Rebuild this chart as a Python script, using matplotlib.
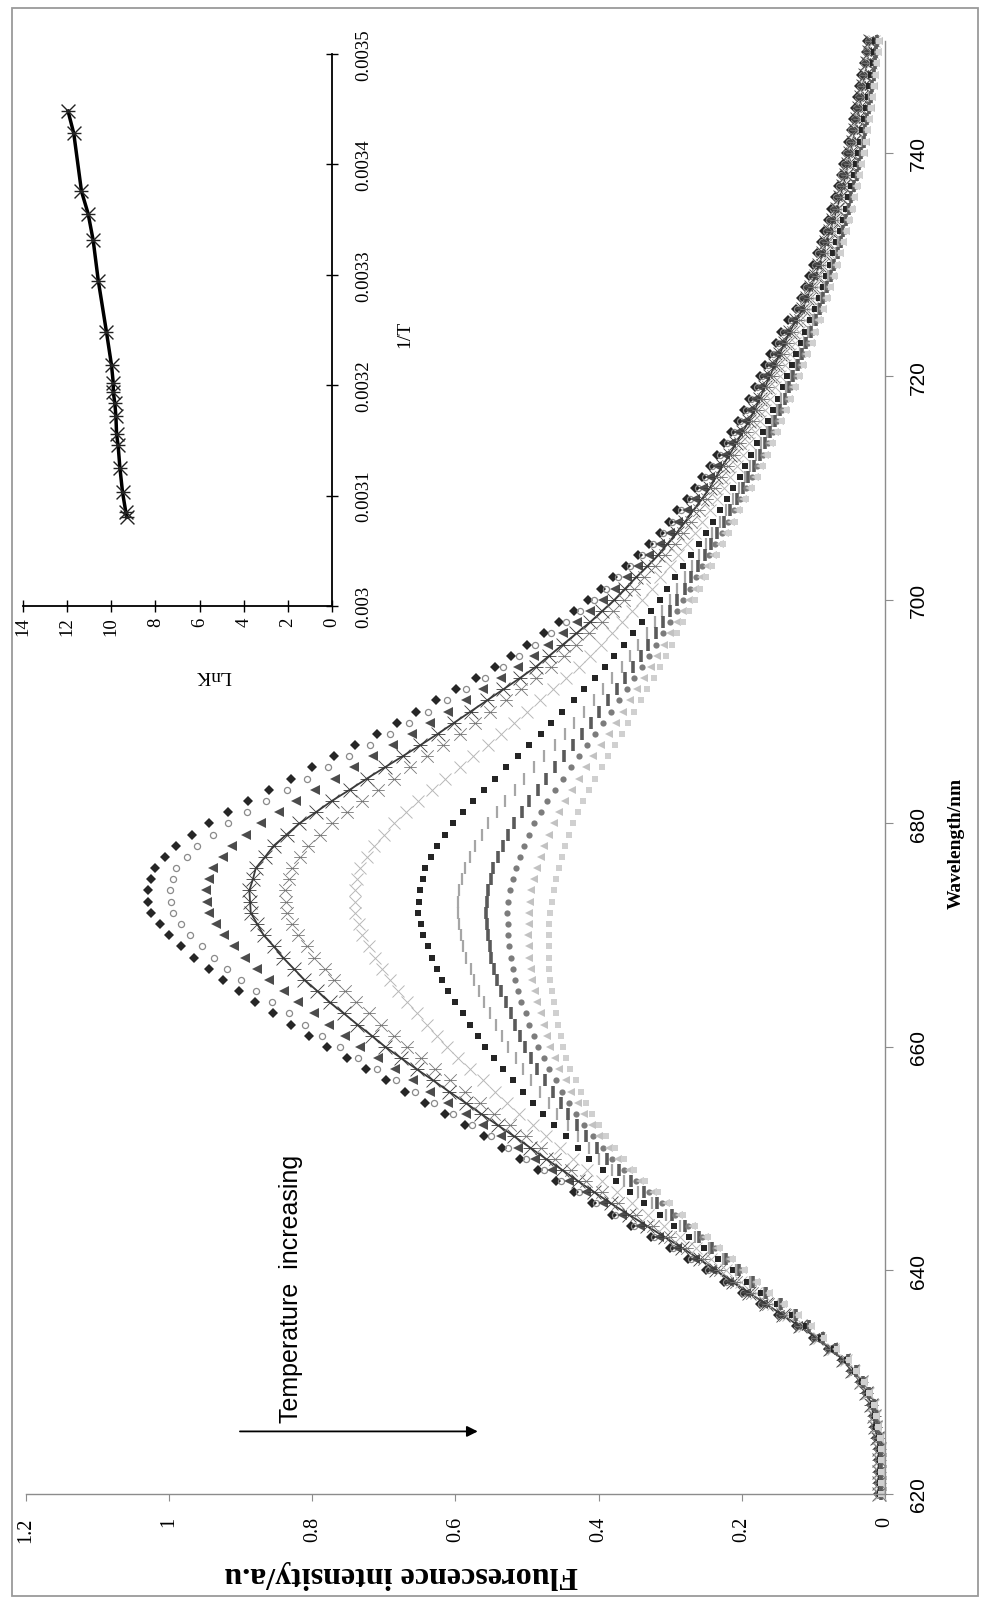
import numpy as np
import matplotlib.pyplot as plt
from matplotlib.path import Path
from matplotlib.patches import Rectangle
from matplotlib.ticker import FuncFormatter

W, H = 984, 1606
SERIF = 'Liberation Serif'
SANS = 'Liberation Sans'

# emission spectra at 1 nm steps, one list per temperature (coldest first)
wavelength = np.arange(620, 751)

f01 = [.010, .010, .010, .010, .010, .012, .015, .017, .020, .027, .035, .047, .060, .080, .100, .125, .150, .175, .200, .225,
       .250, .275, .300, .327, .355, .382, .410, .435, .460, .485, .510, .535, .560, .587, .615, .642, .670, .697, .725, .752,
       .780, .805, .830, .855, .880, .903, .925, .945, .965, .983, 1.000, 1.013, 1.025, 1.029, 1.030, 1.026, 1.020, 1.006, .990, .968,
       .945, .918, .890, .860, .830, .800, .770, .740, .710, .682, .655, .627, .600, .572, .545, .522, .500, .477, .455, .435,
       .415, .397, .380, .362, .345, .330, .315, .302, .290, .277, .265, .255, .245, .235, .225, .215, .205, .197, .190, .182,
       .175, .167, .160, .152, .145, .135, .125, .118, .112, .106, .100, .095, .090, .085, .080, .075, .070, .066, .062, .058,
       .055, .051, .048, .045, .042, .039, .036, .033, .030, .027, .025]
f02 = [.010, .010, .010, .010, .010, .012, .015, .017, .020, .027, .035, .047, .059, .079, .099, .123, .148, .173, .198, .222,
       .247, .271, .296, .323, .350, .377, .404, .428, .453, .477, .502, .526, .551, .577, .604, .630, .657, .683, .710, .736,
       .762, .786, .810, .833, .857, .878, .900, .919, .938, .954, .971, .983, .995, .997, .999, .994, .990, .975, .961, .939,
       .918, .891, .865, .836, .807, .778, .749, .720, .692, .665, .639, .612, .586, .559, .533, .511, .489, .467, .446, .426,
       .407, .390, .373, .356, .339, .324, .310, .297, .285, .273, .261, .251, .241, .231, .221, .211, .202, .194, .187, .179,
       .172, .164, .157, .149, .142, .132, .123, .116, .110, .104, .098, .093, .088, .083, .078, .073, .068, .064, .061, .057,
       .054, .050, .047, .044, .041, .038, .035, .032, .029, .026, .024]
f03 = [.009, .009, .009, .009, .009, .011, .014, .016, .019, .026, .034, .046, .059, .078, .098, .122, .146, .170, .194, .218,
       .242, .266, .290, .316, .342, .368, .394, .418, .442, .465, .489, .512, .536, .561, .586, .610, .635, .659, .684, .708,
       .733, .755, .777, .798, .820, .840, .860, .877, .894, .909, .924, .934, .945, .947, .949, .944, .939, .925, .912, .892,
       .872, .847, .823, .796, .769, .742, .715, .688, .661, .636, .611, .586, .562, .537, .512, .491, .471, .450, .430, .412,
       .394, .377, .361, .345, .329, .315, .301, .289, .277, .265, .254, .244, .234, .224, .215, .205, .196, .189, .182, .174,
       .167, .159, .152, .145, .138, .128, .119, .113, .107, .101, .095, .090, .085, .080, .076, .071, .066, .062, .058, .054,
       .051, .048, .045, .042, .039, .036, .033, .030, .027, .025, .023]
f04 = [.009, .009, .009, .009, .009, .011, .014, .016, .019, .026, .034, .046, .058, .077, .096, .119, .143, .166, .190, .213,
       .236, .259, .283, .308, .333, .358, .383, .406, .429, .451, .474, .496, .518, .541, .564, .586, .609, .631, .654, .676,
       .698, .717, .737, .756, .776, .793, .811, .826, .841, .854, .868, .877, .886, .887, .888, .883, .879, .866, .854, .836,
       .818, .795, .773, .748, .724, .699, .674, .649, .625, .602, .579, .556, .533, .510, .488, .469, .450, .431, .412, .395,
       .378, .363, .348, .332, .317, .304, .291, .279, .268, .256, .245, .236, .227, .217, .208, .199, .190, .182, .175, .168,
       .161, .154, .147, .140, .133, .124, .115, .109, .103, .097, .092, .087, .082, .077, .072, .067, .063, .059, .055, .052,
       .049, .045, .042, .039, .036, .033, .031, .028, .025, .023, .021]
f05 = [.008, .008, .008, .008, .008, .010, .013, .015, .018, .025, .033, .045, .057, .076, .095, .117, .140, .163, .186, .208,
       .231, .253, .276, .300, .324, .348, .373, .395, .418, .439, .461, .481, .502, .524, .546, .566, .587, .607, .628, .648,
       .668, .686, .704, .721, .739, .754, .770, .783, .797, .808, .820, .828, .836, .837, .838, .833, .829, .817, .806, .789,
       .772, .751, .731, .708, .686, .663, .640, .617, .594, .573, .552, .530, .509, .488, .467, .449, .432, .414, .396, .380,
       .364, .350, .336, .321, .307, .294, .282, .271, .260, .249, .238, .229, .220, .211, .202, .193, .184, .177, .170, .163,
       .156, .149, .142, .135, .128, .119, .111, .105, .099, .093, .088, .083, .079, .074, .069, .065, .061, .057, .053, .049,
       .046, .043, .040, .037, .034, .031, .029, .026, .024, .021, .019]
f06 = [.007, .007, .007, .007, .007, .009, .012, .014, .017, .024, .032, .043, .055, .073, .092, .113, .135, .157, .180, .201,
       .222, .243, .264, .286, .309, .331, .354, .375, .396, .416, .436, .454, .473, .492, .511, .528, .545, .562, .580, .596,
       .612, .626, .640, .654, .668, .680, .692, .702, .713, .721, .730, .735, .741, .741, .741, .737, .733, .723, .714, .700,
       .686, .669, .652, .633, .614, .594, .575, .555, .536, .518, .500, .482, .464, .446, .428, .412, .397, .382, .367, .353,
       .339, .326, .314, .301, .289, .277, .266, .255, .245, .235, .225, .216, .207, .198, .190, .182, .174, .167, .160, .153,
       .146, .139, .133, .126, .120, .112, .105, .099, .093, .088, .083, .078, .073, .068, .064, .060, .056, .052, .048, .045,
       .042, .039, .036, .033, .030, .027, .025, .022, .020, .018, .016]
f07 = [.007, .007, .007, .007, .007, .009, .012, .014, .017, .024, .032, .042, .053, .071, .090, .110, .130, .151, .173, .193,
       .213, .233, .253, .274, .295, .315, .336, .356, .376, .394, .413, .429, .446, .462, .478, .492, .506, .520, .534, .546,
       .559, .569, .580, .590, .601, .610, .619, .626, .633, .639, .645, .648, .652, .651, .650, .646, .642, .634, .626, .615,
       .604, .590, .576, .560, .545, .529, .513, .497, .481, .466, .451, .435, .420, .405, .391, .378, .365, .352, .339, .327,
       .315, .304, .293, .282, .271, .260, .250, .240, .231, .221, .212, .203, .195, .187, .179, .171, .164, .157, .150, .143,
       .137, .130, .124, .118, .112, .105, .098, .092, .087, .082, .077, .072, .068, .063, .059, .055, .051, .047, .044, .041,
       .038, .035, .032, .029, .027, .024, .022, .019, .017, .015, .014]
f08 = [.006, .006, .006, .006, .006, .008, .011, .013, .016, .023, .031, .041, .052, .070, .088, .107, .127, .148, .169, .188,
       .208, .227, .246, .266, .286, .306, .326, .345, .364, .381, .399, .414, .429, .443, .458, .470, .482, .494, .506, .516,
       .527, .535, .544, .552, .560, .567, .574, .579, .585, .589, .593, .595, .597, .596, .595, .591, .587, .580, .573, .563,
       .554, .542, .531, .517, .504, .490, .476, .461, .447, .434, .421, .407, .394, .381, .368, .356, .345, .333, .322, .311,
       .301, .290, .280, .270, .260, .250, .241, .231, .222, .213, .204, .196, .188, .180, .173, .165, .158, .151, .145, .138,
       .132, .125, .119, .113, .107, .100, .094, .089, .084, .079, .074, .069, .065, .060, .056, .052, .048, .044, .041, .038,
       .035, .032, .030, .027, .024, .022, .020, .017, .015, .013, .012]
f09 = [.006, .006, .006, .006, .006, .008, .011, .013, .016, .023, .031, .041, .052, .069, .087, .106, .125, .145, .166, .185,
       .204, .222, .241, .260, .279, .298, .318, .336, .355, .371, .388, .402, .417, .430, .443, .453, .464, .475, .486, .494,
       .503, .510, .517, .523, .530, .536, .542, .546, .550, .552, .555, .556, .558, .556, .554, .550, .547, .540, .534, .526,
       .518, .507, .497, .485, .473, .461, .449, .436, .423, .411, .399, .387, .375, .363, .352, .341, .331, .320, .310, .300,
       .290, .280, .271, .261, .252, .243, .234, .225, .216, .207, .199, .191, .183, .175, .168, .161, .154, .147, .140, .134,
       .128, .122, .116, .110, .104, .097, .091, .086, .081, .076, .071, .066, .062, .058, .054, .050, .047, .043, .039, .036,
       .033, .030, .028, .025, .023, .020, .018, .016, .014, .012, .011]
f10 = [.006, .006, .006, .006, .006, .008, .011, .013, .016, .023, .031, .041, .051, .069, .087, .105, .123, .143, .164, .182,
       .201, .219, .237, .256, .275, .293, .312, .330, .348, .364, .381, .394, .408, .420, .432, .441, .451, .460, .470, .477,
       .485, .491, .497, .502, .508, .512, .517, .520, .523, .525, .527, .527, .528, .526, .524, .520, .516, .510, .505, .497,
       .490, .481, .472, .461, .450, .439, .428, .416, .405, .394, .383, .372, .361, .350, .340, .330, .320, .310, .301, .291,
       .282, .273, .264, .255, .246, .237, .228, .219, .211, .202, .194, .186, .179, .171, .164, .157, .151, .144, .137, .131,
       .125, .119, .113, .107, .101, .095, .089, .084, .079, .074, .070, .065, .061, .056, .052, .048, .045, .041, .038, .035,
       .032, .029, .027, .024, .021, .019, .017, .015, .013, .011, .010]
f11 = [.005, .005, .005, .005, .005, .007, .010, .012, .015, .022, .030, .040, .051, .068, .086, .104, .122, .142, .162, .180,
       .198, .216, .234, .252, .270, .288, .306, .324, .342, .357, .373, .386, .399, .410, .421, .429, .438, .446, .455, .461,
       .468, .472, .477, .481, .486, .489, .493, .495, .497, .498, .499, .498, .498, .496, .494, .490, .486, .481, .476, .469,
       .463, .455, .447, .437, .428, .418, .408, .397, .386, .376, .366, .356, .346, .336, .327, .318, .309, .300, .291, .282,
       .274, .265, .257, .248, .240, .231, .223, .215, .207, .198, .190, .182, .175, .168, .161, .154, .147, .140, .134, .128,
       .122, .116, .110, .104, .099, .093, .087, .082, .077, .072, .068, .063, .059, .055, .051, .047, .044, .040, .036, .033,
       .030, .027, .025, .022, .020, .018, .016, .014, .012, .010, .009]
f12 = [.005, .005, .005, .005, .005, .007, .010, .012, .015, .022, .030, .040, .050, .067, .085, .102, .120, .140, .160, .177,
       .195, .212, .230, .247, .265, .282, .300, .317, .335, .350, .365, .377, .390, .400, .410, .417, .425, .432, .440, .445,
       .450, .453, .457, .460, .463, .465, .468, .469, .470, .470, .470, .469, .468, .465, .463, .459, .456, .451, .447, .441,
       .436, .429, .422, .413, .405, .396, .387, .377, .368, .359, .350, .341, .332, .323, .315, .306, .298, .290, .282, .274,
       .266, .258, .250, .242, .234, .226, .218, .210, .202, .194, .186, .178, .171, .164, .157, .150, .144, .137, .131, .125,
       .119, .113, .107, .101, .096, .090, .085, .080, .075, .070, .066, .061, .057, .053, .049, .045, .042, .038, .035, .032,
       .029, .026, .024, .021, .019, .017, .015, .013, .011, .009, .008]

# van 't Hoff plot
inv_T = [0.0034483, 0.0034281, 0.0033756, 0.0033554, 0.0033312, 0.0032948,
         0.0032484, 0.0032181, 0.0032019, 0.0031939, 0.0031838, 0.0031717,
         0.0031555, 0.0031454, 0.0031252, 0.0031030, 0.0030848, 0.0030808]
ln_K = [11.96, 11.70, 11.35, 11.05, 10.82, 10.59, 10.22, 9.99, 9.91,
        9.91, 9.84, 9.79, 9.76, 9.69, 9.61, 9.49, 9.34, 9.31]

# x with a flat bar through it
ASTERISK = Path([(-1, -1), (1, 1), (-1, 1), (1, -1), (-1, 0), (1, 0)],
                [Path.MOVETO, Path.LINETO] * 3)

STYLES = [
    dict(marker='D', ms=4.6, color='#262626', mew=0),
    dict(marker='o', ms=4.4, color='#8a8a8a', mfc='none', mew=0.9),
    dict(marker='<', ms=6.5, color='#4c4c4c', mew=0),
    dict(marker=ASTERISK, ms=10, color='#3a3a3a', mew=0.6, ls='-', lw=1.3),
    dict(marker=ASTERISK, ms=9, color='#777777', mew=0.6),
    dict(marker='x', ms=9, color='#b8b8b8', mew=0.7),
    dict(marker='s', ms=4.4, color='#252525', mew=0),
    dict(marker='|', ms=8, color='#a6a6a6', mew=1.6),
    dict(marker='|', ms=9, color='#5a5a5a', mew=2.6),
    dict(marker='o', ms=4.5, color='#7c7c7c', mew=0),
    dict(marker='<', ms=6, color='#c2c2c2', mew=0),
    dict(marker='s', ms=5, color='#d0d0d0', mew=0),
]


def fmt(v, pos):
    return '%g' % v


fig = plt.figure(figsize=(W / 100, H / 100), dpi=100)
fig.patches.append(Rectangle((12 / W, 9 / H), 966 / W, 1588 / H, transform=fig.transFigure,
                             fill=False, edgecolor='#9a9a9a', lw=1.3))

# main spectra, turned on their side: intensity runs right-to-left
ax = fig.add_axes([26 / W, 1 - 1495 / H, 859 / W, 1453 / H])
spectra = [f01, f02, f03, f04, f05, f06, f07, f08, f09, f10, f11, f12]
for values, st in zip(spectra, STYLES):
    st = dict(st)
    ls = st.pop('ls', 'none')
    ax.plot(values, wavelength, linestyle=ls, clip_on=False, **st)

ax.set_xlim(1.2, 0)
ax.set_ylim(620, 750)
for side in ['top', 'left']:
    ax.spines[side].set_visible(False)
for side in ['bottom', 'right']:
    ax.spines[side].set_color('#8c8c8c')
    ax.spines[side].set_linewidth(1.0)
ax.yaxis.tick_right()
ax.set_xticks(np.arange(0, 1.21, 0.2))
ax.set_yticks(np.arange(620, 741, 20))
ax.xaxis.set_major_formatter(FuncFormatter(fmt))
ax.tick_params(axis='x', direction='out', length=5, color='#8c8c8c', pad=11,
               labelsize=14.5, labelrotation=90)
ax.tick_params(axis='y', direction='out', length=6, color='#8c8c8c', pad=11,
               labelsize=15, labelrotation=90)
for lab in ax.get_xticklabels():
    lab.set_family(SERIF)
for lab in ax.get_yticklabels():
    lab.set_family(SANS)
    lab.set_va('center')

ax.set_xlabel('Fluorescence intensity/a.u', rotation=180, fontsize=23,
              fontweight='bold', family=SERIF, va='center')
ax.xaxis.set_label_coords(0.4366, -0.055)
ax.yaxis.set_label_position('right')
ax.set_ylabel('Wavelength/nm', rotation=90, fontsize=14, fontweight='bold',
              family=SERIF, va='center', ha='center')
ax.yaxis.set_label_coords(1.0826, 0.4487)

ax.annotate('', xy=(0.565, 625.6), xytext=(0.905, 625.6),
            arrowprops=dict(arrowstyle='-|>', color='black', lw=1.3, mutation_scale=16))
ax.text(0.83, 638.4, 'Temperature  increasing', rotation=90, ha='center', va='center',
        fontsize=18, family=SANS)

# inset: ln K against 1/T
ax2 = fig.add_axes([23 / W, 1 - 607 / H, 309 / W, 552 / H])
ax2.patch.set_alpha(0)
ax2.plot(ln_K, inv_T, color='black', lw=2.5, marker=ASTERISK, ms=10, mew=1.0,
         mec='#222222')
ax2.set_xlim(14, 0)
ax2.set_ylim(0.003, 0.0035)
for side in ['top', 'left']:
    ax2.spines[side].set_visible(False)
for side in ['bottom', 'right']:
    ax2.spines[side].set_linewidth(1.3)
ax2.yaxis.tick_right()
ax2.set_xticks(np.arange(0, 15, 2))
ax2.set_yticks(np.arange(0.003, 0.00351, 0.0001))
ax2.xaxis.set_major_formatter(FuncFormatter(fmt))
ax2.yaxis.set_major_formatter(FuncFormatter(fmt))
ax2.tick_params(axis='x', direction='inout', length=9, width=1, pad=3,
                labelsize=13.5, labelrotation=90)
ax2.tick_params(axis='y', direction='inout', length=9, width=1, pad=12,
                labelsize=13.5, labelrotation=90)
for lab in ax2.get_xticklabels() + ax2.get_yticklabels():
    lab.set_family(SERIF)
for lab in ax2.get_yticklabels():
    lab.set_va('center')

ax2.set_xlabel('LnK', rotation=180, fontsize=14, family=SERIF, va='center')
ax2.xaxis.set_label_coords(0.615, -0.125)
ax2.yaxis.set_label_position('right')
ax2.set_ylabel('1/T', rotation=90, fontsize=14, family=SERIF, va='center', ha='center')
ax2.yaxis.set_label_coords(1.236, 0.493)

fig.savefig('out.png', dpi=100)
